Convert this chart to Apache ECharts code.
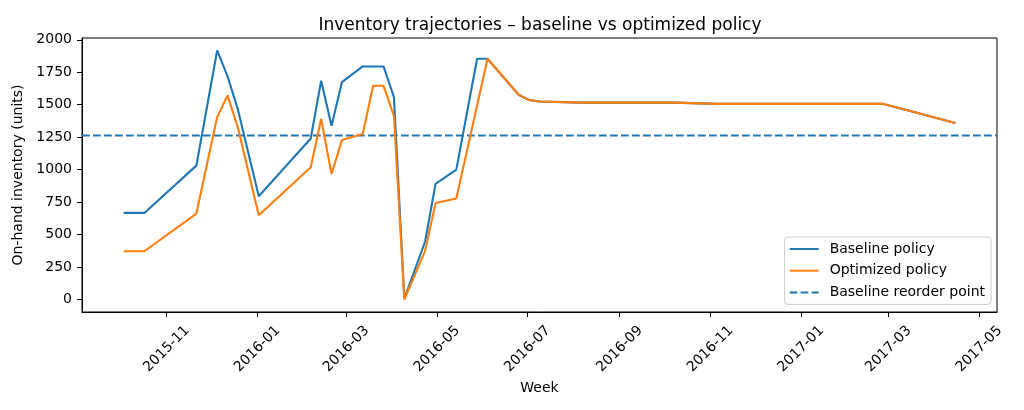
<!DOCTYPE html>
<html>
<head>
<meta charset="utf-8">
<script src="https://cdn.jsdelivr.net/npm/echarts@6/dist/echarts.min.js"></script>
<style>
html,body{margin:0;padding:0;background:#fff;}
#chart{width:1024px;height:410px;}
</style>
</head>
<body>
<div id="chart"></div>
<script>
// Week dates (vertices of the trajectories)
const weeks = ['2015-10-03','2015-10-17','2015-11-21','2015-12-05','2015-12-12','2015-12-19','2016-01-02',
  '2016-02-06','2016-02-13','2016-02-20','2016-02-27','2016-03-12','2016-03-19','2016-03-26','2016-04-02',
  '2016-04-09','2016-04-23','2016-04-30','2016-05-14','2016-05-28','2016-06-04','2016-06-25','2016-07-02',
  '2016-07-09','2016-08-06','2016-10-08','2016-11-05','2017-02-25','2017-04-15'];
const baseline = [667,667,1031,1918,1718,1462,795,
  1240,1685,1338,1674,1795,1795,1795,1559,
  8,447,891,1000,1854,1854,1577,1536,
  1525,1516,1516,1507,1507,1359];
const optimized = [372,372,662,1405,1572,1321,649,
  1018,1390,967,1228,1274,1646,1646,1415,
  0,375,744,778,null,1854,1577,1536,
  1525,1516,1516,1507,1507,1359];
const reorderPoint = 1263;
const yTicks = [0,250,500,750,1000,1250,1500,1750,2000];
const xTicks = ['2015-11-01','2016-01-01','2016-03-01','2016-05-01','2016-07-01','2016-09-01','2016-11-01','2017-01-01','2017-03-01','2017-05-01'];
const xRange = ['2015-09-05','2017-05-13'];
const yRange = [-96, 2014];

const ts = s => new Date(s + 'T00:00:00').getTime();
const FONT = 'DejaVu Sans';
const pair = (vals) => weeks.map((d, i) => [ts(d), vals[i]]);

const chart = echarts.init(document.getElementById('chart'), null, {renderer: 'canvas'});
chart.setOption({
  animation: false,
  backgroundColor: '#ffffff',
  title: {
    text: 'Inventory trajectories – baseline vs optimized policy',
    left: 535, top: 12, textAlign: 'center',
    textStyle: {fontFamily: FONT, fontSize: 17, fontWeight: 'normal', color: '#000'}
  },
  grid: {left: 82, right: 27, top: 38, bottom: 98, show: true, borderColor: '#000', borderWidth: 1, backgroundColor: 'transparent'},
  legend: {
    orient: 'vertical', right: 33, top: 237,
    itemWidth: 29, itemHeight: 14, itemGap: 7.7,
    padding: [5, 6, 5, 4],
    backgroundColor: 'rgba(255,255,255,0.8)', borderColor: '#cccccc', borderWidth: 1, borderRadius: 3,
    itemStyle: {opacity: 0},
    textStyle: {fontFamily: FONT, fontSize: 14, color: '#000', padding: [0, 0, 0, 6]},
    data: ['Baseline policy', 'Optimized policy', 'Baseline reorder point']
  },
  xAxis: {
    type: 'value', min: ts(xRange[0]), max: ts(xRange[1]),
    name: 'Week', nameLocation: 'middle', nameGap: 66,
    nameTextStyle: {fontFamily: FONT, fontSize: 14, color: '#000'},
    axisLine: {show: true, onZero: false, lineStyle: {color: '#000', width: 1}},
    axisTick: {show: true, length: 5, lineStyle: {color: '#000'}, customValues: xTicks.map(ts)},
    axisLabel: {
      customValues: xTicks.map(ts), rotate: 45, align: 'center', verticalAlign: 'middle', margin: 37,
      fontFamily: FONT, fontSize: 14, color: '#000',
      formatter: v => { const d = new Date(v); return d.getFullYear() + '-' + String(d.getMonth() + 1).padStart(2, '0'); }
    },
    splitLine: {show: false}
  },
  yAxis: {
    type: 'value', min: yRange[0], max: yRange[1],
    name: 'On-hand inventory (units)', nameLocation: 'middle', nameGap: 51, nameRotate: 90,
    nameTextStyle: {fontFamily: FONT, fontSize: 14, color: '#000'},
    axisLine: {show: true, onZero: false, lineStyle: {color: '#000', width: 1}},
    axisTick: {show: true, length: 5, lineStyle: {color: '#000'}, customValues: yTicks},
    axisLabel: {customValues: yTicks, margin: 10, fontFamily: FONT, fontSize: 14, color: '#000', formatter: v => String(v)},
    splitLine: {show: false}
  },
  series: [
    {name: 'Baseline policy', type: 'line', data: pair(baseline), symbol: 'none', connectNulls: true,
     lineStyle: {color: '#1f77b4', width: 2.1}, itemStyle: {color: '#1f77b4'}, z: 2},
    {name: 'Optimized policy', type: 'line', data: pair(optimized), symbol: 'none', connectNulls: true,
     lineStyle: {color: '#ff7f0e', width: 2.1}, itemStyle: {color: '#ff7f0e'}, z: 3},
    {name: 'Baseline reorder point', type: 'line', symbol: 'none',
     data: [[ts(xRange[0]), reorderPoint], [ts(xRange[1]), reorderPoint]],
     lineStyle: {color: '#1f77b4', width: 2.1, type: [7.7, 3.3]}, itemStyle: {color: '#1f77b4'}, z: 1}
  ]
});
</script>
</body>
</html>
